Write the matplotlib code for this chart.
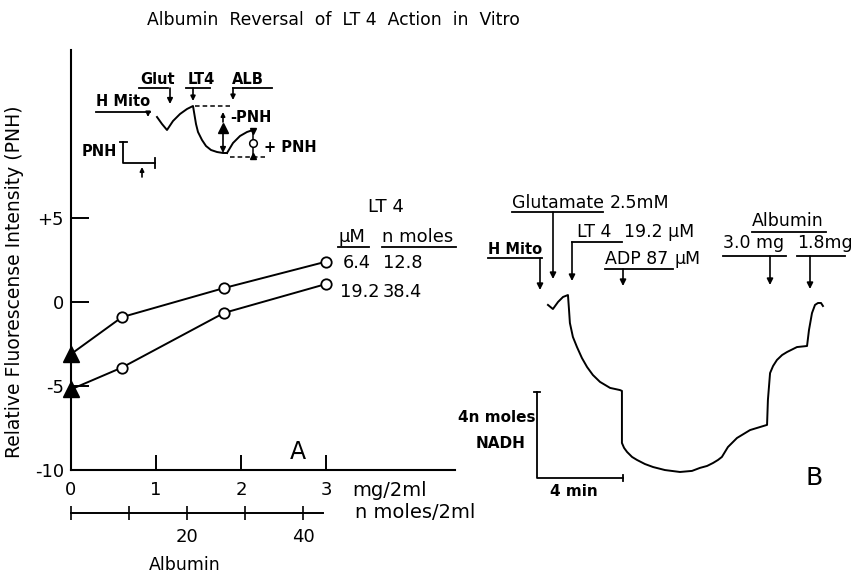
import matplotlib
matplotlib.use("Agg")
import matplotlib.pyplot as plt

plt.rcParams['font.family'] = ['DejaVu Sans']
plt.rcParams['font.size'] = 12.5

# panel A data: albumin added (mg/2ml) vs relative fluorescence (PNH)
albumin_mg = [0, 0.6, 1.8, 3.0]
pnh_lt4_6_4 = [-3.1, -0.9, 0.83, 2.4]
pnh_lt4_19_2 = [-5.2, -3.9, -0.65, 1.07]
y_ticks = [-10, -5, 0, 5]
y_ticklabels = ['-10', '-5', '0', '+5']
x_ticks = [0, 1, 2, 3]
nmol_ticks = [0, 10, 20, 30, 40]
nmol_labels = ['', '', '20', '', '40']

# panel B data: NADH trace (time in min, NADH in n moles, scale bar origin = 0,0)
trace_t = [0.51, 0.74, 0.98, 1.21, 1.44, 1.49, 1.53, 1.67, 1.86, 2.09, 2.33, 2.60,
           2.93, 3.40, 3.86, 3.95, 3.95, 4.05, 4.19, 4.42, 4.65, 5.02, 5.40, 5.95,
           6.65, 7.21, 7.58, 7.91, 8.19, 8.42, 8.60, 8.88, 9.30, 9.91, 10.37, 10.70,
           10.74, 10.84, 10.98, 11.16, 11.40, 11.63, 12.09, 12.56, 12.65, 12.79,
           12.93, 13.07, 13.21, 13.30]
trace_n = [8.05, 7.86, 8.19, 8.42, 8.51, 7.81, 7.21, 6.56, 6.09, 5.58, 5.16, 4.79,
           4.47, 4.19, 4.09, 4.05, 1.63, 1.40, 1.21, 0.98, 0.84, 0.65, 0.51, 0.37,
           0.28, 0.33, 0.47, 0.56, 0.70, 0.84, 0.98, 1.44, 1.86, 2.23, 2.37, 2.47,
           3.63, 4.88, 5.21, 5.49, 5.72, 5.86, 6.09, 6.14, 6.88, 7.67,
           8.05, 8.14, 8.14, 8.00]
scale_min = 4
scale_nadh = 4

W, H = 851, 578
fig = plt.figure(figsize=(W / 100, H / 100), dpi=100)


def px_box(x0, y0, x1, y1):
    # pixel box (top-left origin) -> figure fraction rect
    return [x0 / W, 1 - y1 / H, (x1 - x0) / W, (y1 - y0) / H]


# ---- panel A ----
ax = fig.add_axes(px_box(71, 50, 455, 470))
ax.set_xlim(0, 384 / 85)
ax.set_ylim(-10, 15)
ax.patch.set_visible(False)
for s in ['top', 'right']:
    ax.spines[s].set_visible(False)
for s in ['left', 'bottom']:
    ax.spines[s].set_linewidth(1.5)
ax.set_xticks(x_ticks)
ax.set_xticklabels([str(v) for v in x_ticks])
ax.set_yticks(y_ticks)
ax.set_yticklabels(y_ticklabels)
ax.tick_params(direction='in', length=11, width=1.4, labelsize=13, pad=8)
ax.tick_params(axis='y', length=13, pad=5)

for yv in (pnh_lt4_6_4, pnh_lt4_19_2):
    ax.plot(albumin_mg, yv, color='k', lw=1.4, clip_on=False, zorder=3)
    ax.plot(albumin_mg[1:], yv[1:], 'o', mfc='white', mec='k', mew=1.3, ms=7.5,
            clip_on=False, zorder=4)
    ax.plot(albumin_mg[:1], yv[:1], '^', color='k', ms=11, clip_on=False, zorder=4)

# second scale: n moles/2ml
ax2 = fig.add_axes(px_box(71, 500, 323, 513))
ax2.set_xlim(0, 252 / 5.8)
ax2.patch.set_visible(False)
for s in ['top', 'right', 'left']:
    ax2.spines[s].set_visible(False)
ax2.spines['bottom'].set_linewidth(1.4)
ax2.set_yticks([])
ax2.set_xticks(nmol_ticks)
ax2.set_xticklabels(nmol_labels)
ax2.tick_params(axis='x', direction='inout', length=10, width=1.2, labelsize=13, pad=6)

# ---- panel B ----
axb = fig.add_axes(px_box(440, 180, 851, 578))
axb.set_xlim((440 - 537) / 21.5, (851 - 537) / 21.5)
axb.set_ylim((478 - 578) / 21.5, (478 - 180) / 21.5)
axb.axis('off')
axb.plot(trace_t, trace_n, color='k', lw=1.4)
axb.plot([0, 0, scale_min], [scale_nadh, 0, 0], color='k', lw=1.3)
axb.plot([-0.12, 0.12], [scale_nadh, scale_nadh], color='k', lw=1.3)
axb.plot([scale_min, scale_min], [-0.12, 0.12], color='k', lw=1.3)

# ---- overlay for lettering (pixel coordinates) ----
ov = fig.add_axes([0, 0, 1, 1])
ov.set_xlim(0, W)
ov.set_ylim(H, 0)
ov.axis('off')
ov.patch.set_visible(False)


def txt(x, y, s, ha='left', size=12.5, **kw):
    ov.text(x, y, s, ha=ha, va='center', fontsize=size, **kw)


def line(xs, ys, lw=1.3, **kw):
    ov.plot(xs, ys, color='k', lw=lw, **kw)


def arrow(x, y0, y1, lw=1.2, ms=9):
    ov.annotate('', xy=(x, y1), xytext=(x, y0),
                arrowprops=dict(arrowstyle='-|>', lw=lw, color='k',
                                mutation_scale=ms, shrinkA=0, shrinkB=0))


txt(333, 20, 'Albumin  Reversal  of  LT 4  Action  in  Vitro', ha='center', size=12.4)
ov.text(15, 282, 'Relative Fluorescense Intensity (PNH)', rotation=90,
        ha='center', va='center', fontsize=13.5)

# legend of panel A
txt(368, 207, 'LT 4', size=13)
txt(338, 237, 'µM', size=13)
line([338, 369], [247, 247])
txt(382, 237, 'n moles', size=13)
line([382, 456], [247, 247])
txt(343, 263, '6.4', size=12.8)
txt(383, 263, '12.8', size=12.8)
txt(340, 292, '19.2', size=12.8)
txt(383, 292, '38.4', size=12.8)

txt(352, 490, 'mg/2ml', size=14)
txt(355, 512, 'n moles/2ml', size=14)
txt(298, 452, 'A', ha='center', size=17)
txt(185, 565, 'Albumin', ha='center', size=12.5)

# inset sketch
txt(96, 101, 'H Mito', size=10.5, fontweight='bold')
line([96, 150], [112, 112])
arrow(148, 112, 117, ms=7)
txt(140, 80, 'Glut', size=10.5, fontweight='bold')
line([139, 168], [88, 88])
arrow(170, 88, 104, ms=8)
txt(188, 80, 'LT4', size=10.5, fontweight='bold')
line([186, 210], [88, 88])
arrow(193, 88, 101, ms=7)
txt(232, 80, 'ALB', size=10.5, fontweight='bold')
line([233, 272], [88, 88])
arrow(233, 88, 100, ms=7)

sk_x = [157, 162, 167, 173, 180, 187, 193, 194, 196, 198, 202, 206, 211, 217, 223, 227]
sk_y = [117, 124, 130, 121, 114, 109, 106, 112, 124, 132, 140, 146, 150, 152, 153, 153]
line(sk_x, sk_y, lw=1.4)
line([227, 233, 240, 247, 253], [153, 143, 136, 132, 130], lw=1.4)
line([195, 230], [106, 106], lw=1.1, ls=(0, (3, 2)))
line([230, 265], [157, 157], lw=1.1, ls=(0, (3, 2)))
arrow(223, 130, 153, ms=8)
ov.plot([223], [128], '^', color='k', ms=7)
arrow(223, 122, 112, ms=6)
txt(230, 118, '-PNH', size=10.5, fontweight='bold')
line([253, 253], [131, 156], lw=1.1)
ov.plot([253], [143], 'o', mfc='white', mec='k', ms=5.5, mew=1.1)
ov.plot([253], [131], 'v', color='k', ms=4)
ov.plot([253], [156], '^', color='k', ms=4)
txt(264, 147, '+ PNH', size=10.5, fontweight='bold')
txt(82, 152, 'PNH', size=10.5, fontweight='bold')
line([120, 127], [142, 142])
line([123, 123, 155], [142, 163, 163])
line([155, 155], [158, 168])
arrow(142, 177, 167, ms=6)

# panel B lettering
txt(512, 203, 'Glutamate', size=12.5)
line([512, 603], [212, 212])
txt(610, 203, '2.5mM', size=12.5)
arrow(553, 212, 279)
txt(488, 249, 'H Mito', size=10.5, fontweight='bold')
line([488, 542], [258, 258])
arrow(540, 258, 290)
txt(577, 232, 'LT 4', size=12.5)
line([572, 622], [242, 242])
arrow(572, 242, 281)
txt(624, 232, '19.2 µM', size=12.5)
txt(605, 259, 'ADP 87', size=12.5)
line([605, 673], [269, 269])
txt(675, 259, 'µM', size=12.5)
arrow(623, 269, 286)
txt(752, 221, 'Albumin', size=12.5)
line([752, 826], [232, 232])
txt(723, 243, '3.0 mg', size=12.5)
line([723, 786], [256, 256])
arrow(770, 256, 285)
txt(797, 243, '1.8mg', size=12.5)
line([797, 845], [256, 256])
arrow(810, 256, 289)

txt(535, 418, '4n moles', ha='right', size=11, fontweight='bold')
txt(501, 443, 'NADH', ha='center', size=11, fontweight='bold')
txt(574, 492, '4 min', ha='center', size=11, fontweight='bold')
txt(805, 478, 'B', size=18)

fig.savefig('out.png', dpi=100)
